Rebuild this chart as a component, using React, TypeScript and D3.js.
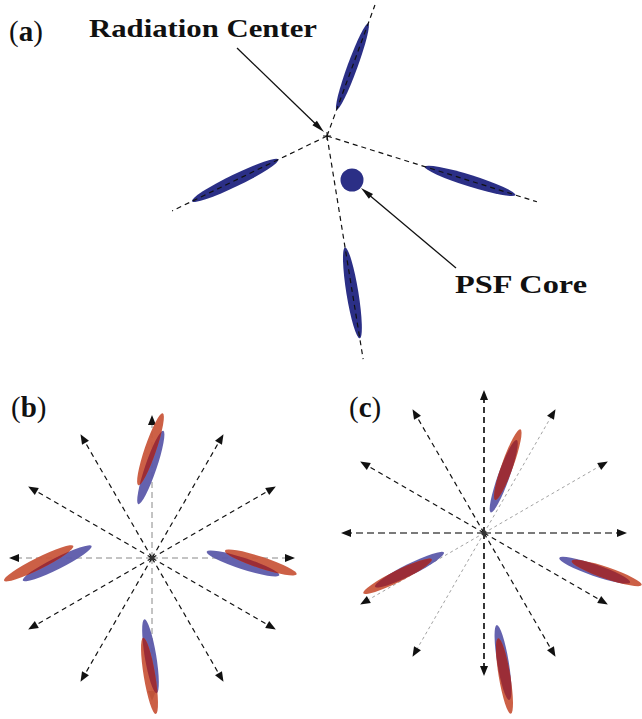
import React from 'react';
import * as d3 from 'd3';

// ---- panel (a): one streak per ray, all on the ray through the radiation center
const raysA = [
  { angle: -69.9, len: 139.5 },
  { angle: 154.2, len: 172 },
  { angle: 17.4, len: 220 },
  { angle: 80.8, len: 226 },
];
const streaksA = [
  { dist: 74, len: 92, wid: 10 },
  { dist: 102, len: 96, wid: 12 },
  { dist: 150, len: 95, wid: 11.5 },
  { dist: 159, len: 92, wid: 12 },
];
const coreA = { dx: 25, dy: 44, r: 11.5 };

// ---- panels (b) and (c): 12 radial arrows
const rayAngles = [0, 30, 60, 90, 120, 150, 180, 210, 240, 270, 300, 330];
const rayLen = 143;
// line style per arrow, same order as rayAngles
const rayStyleB = ['grid', 'black', 'black', 'grid', 'black', 'black', 'grid', 'black', 'black', 'grid', 'black', 'black'];
const rayStyleC = ['thickGray', 'black', 'black', 'thickBlack', 'thin', 'thin', 'thickGray', 'black', 'black', 'thickBlack', 'thin', 'thin'];

// streak pairs: offsets from panel center, major length, tilt (deg)
const streaksB = [
  { blue: { dx: -1.2, dy: -90.5, len: 77.5 }, red: { dx: -1.5, dy: -108.8, len: 76 }, angle: -71.2 },
  { blue: { dx: -94.8, dy: 5.3, len: 77 }, red: { dx: -113.3, dy: 5.3, len: 77.5 }, angle: -26.6 },
  { blue: { dx: 91, dy: 5.5, len: 76.4 }, red: { dx: 108.8, dy: 4.5, len: 75.5 }, angle: 18.1 },
  { blue: { dx: -1.5, dy: 98.3, len: 75 }, red: { dx: -2.5, dy: 117.8, len: 77.3 }, angle: 80.6 },
];
const streaksC = [
  { blue: { dx: 19.7, dy: -56.7, len: 77 }, red: { dx: 23.8, dy: -68.4, len: 75 }, angle: -70.3 },
  { blue: { dx: -74.5, dy: 36.7, len: 77 }, red: { dx: -86.5, dy: 43.3, len: 76.4 }, angle: -26.4 },
  { blue: { dx: 110.7, dy: 37.2, len: 75 }, red: { dx: 122.7, dy: 40, len: 74 }, angle: 19 },
  { blue: { dx: 19, dy: 129.5, len: 76 }, red: { dx: 20.5, dy: 143, len: 76.7 }, angle: 80.5 },
];
const streakWid = 11.5;

const NAVY = '#2b2f86';
const BLUE = '#5c5aaa';
const ORANGE = '#c9573c';
const OVERLAP = '#9b2d37';
const FONT = 'Liberation Serif, Times New Roman, DejaVu Serif, serif';

const styles: Record<string, { stroke: string; width: number; dash: string }> = {
  grid: { stroke: '#888', width: 1, dash: '6,4' },
  black: { stroke: '#111', width: 1.2, dash: '5,4' },
  thickGray: { stroke: '#7a7a7a', width: 2, dash: '7,4' },
  thickBlack: { stroke: '#222', width: 1.8, dash: '6,4' },
  thin: { stroke: '#8a8a8a', width: 0.8, dash: '3,3' },
};

const rad = (a: number) => (a * Math.PI) / 180;

function arrowHead(x: number, y: number, angle: number, L: number, hw: number) {
  const a = rad(angle);
  const ux = Math.cos(a), uy = Math.sin(a);
  const p = d3.path();
  p.moveTo(x, y);
  p.lineTo(x - ux * L - uy * hw, y - uy * L + ux * hw);
  p.lineTo(x - ux * L + uy * hw, y - uy * L - ux * hw);
  p.closePath();
  return p.toString();
}

const Label: React.FC<{ x: number; y: number; letter: string }> = ({ x, y, letter }) => (
  <text x={x} y={y} fontSize={29} fontFamily={FONT} fill="#111">
    (<tspan fontWeight="bold">{letter}</tspan>)
  </text>
);

const PanelA: React.FC<{ cx: number; cy: number }> = ({ cx, cy }) => {
  const x = d3.scaleLinear().domain([0, 1]).range([cx, cx + 1]);
  const y = d3.scaleLinear().domain([0, 1]).range([cy, cy + 1]);
  const line = d3.line<[number, number]>().x(d => x(d[0])).y(d => y(d[1]));
  return (
    <g>
      {streaksA.map((s, i) => {
        const a = rad(raysA[i].angle);
        return (
          <ellipse key={i}
            cx={0} cy={0} rx={s.len / 2} ry={s.wid / 2} fill={NAVY}
            transform={`translate(${x(s.dist * Math.cos(a))},${y(s.dist * Math.sin(a))}) rotate(${raysA[i].angle})`} />
        );
      })}
      {raysA.map((r, i) => {
        const a = rad(r.angle);
        return (
          <path key={i} d={line([[0, 0], [r.len * Math.cos(a), r.len * Math.sin(a)]]) || ''}
            stroke="#111" strokeWidth={1.2} strokeDasharray="5,4" fill="none" />
        );
      })}
      <circle cx={x(coreA.dx)} cy={y(coreA.dy)} r={coreA.r} fill={NAVY} />
      <path d={`M${x(-4)},${y(0)}H${x(4)}M${x(0)},${y(-4)}V${y(4)}`} stroke="#111" strokeWidth={1} />
    </g>
  );
};

const Annotation: React.FC<{ text: string; tx: number; ty: number; tw: number; x1: number; y1: number; x2: number; y2: number }> =
  ({ text, tx, ty, tw, x1, y1, x2, y2 }) => {
    const ang = (Math.atan2(y2 - y1, x2 - x1) * 180) / Math.PI;
    const a = rad(ang);
    return (
      <g>
        <text x={tx} y={ty} fontSize={26} fontWeight="bold" fontFamily={FONT} fill="#111"
          textLength={tw} lengthAdjust="spacingAndGlyphs">{text}</text>
        <line x1={x1} y1={y1} x2={x2 - Math.cos(a) * 8} y2={y2 - Math.sin(a) * 8} stroke="#111" strokeWidth={1.3} />
        <path d={arrowHead(x2, y2, ang, 13, 3.2)} fill="#111" />
      </g>
    );
  };

const Starburst: React.FC<{ id: string; cx: number; cy: number; styleKeys: string[]; streaks: typeof streaksB }> =
  ({ id, cx, cy, styleKeys, streaks }) => {
    const x = d3.scaleLinear().domain([0, 1]).range([cx, cx + 1]);
    const y = d3.scaleLinear().domain([0, 1]).range([cy, cy + 1]);
    const line = d3.line<[number, number]>().x(d => x(d[0])).y(d => y(d[1]));
    const ell = (e: { dx: number; dy: number; len: number }, angle: number) =>
      `translate(${x(e.dx)},${y(e.dy)}) rotate(${angle})`;
    return (
      <g>
        <defs>
          {streaks.map((s, i) => (
            <clipPath key={i} id={`${id}-clip-${i}`}>
              <ellipse cx={0} cy={0} rx={s.blue.len / 2} ry={streakWid / 2} transform={ell(s.blue, s.angle)} />
            </clipPath>
          ))}
        </defs>
        {rayAngles.map((ang, i) => {
          const st = styles[styleKeys[i]];
          const a = rad(ang);
          const tx = rayLen * Math.cos(a), ty = rayLen * Math.sin(a);
          const bx = (rayLen - 9) * Math.cos(a), by = (rayLen - 9) * Math.sin(a);
          return (
            <g key={i}>
              <path d={line([[0, 0], [bx, by]]) || ''} stroke={st.stroke} strokeWidth={st.width}
                strokeDasharray={st.dash} fill="none" />
              <path d={arrowHead(x(tx), y(ty), ang, 10, 4)} fill="#111" />
            </g>
          );
        })}
        <circle cx={x(0)} cy={y(0)} r={2.5} fill="#333" />
        {streaks.map((s, i) => (
          <g key={i}>
            <ellipse cx={0} cy={0} rx={s.blue.len / 2} ry={streakWid / 2} fill={BLUE} fillOpacity={0.95}
              transform={ell(s.blue, s.angle)} />
            <ellipse cx={0} cy={0} rx={s.red.len / 2} ry={streakWid / 2} fill={ORANGE} fillOpacity={0.95}
              transform={ell(s.red, s.angle)} />
            <g clipPath={`url(#${id}-clip-${i})`}>
              <ellipse cx={0} cy={0} rx={s.red.len / 2} ry={streakWid / 2} fill={OVERLAP}
                transform={ell(s.red, s.angle)} />
            </g>
          </g>
        ))}
      </g>
    );
  };

export default function App() {
  return (
    <svg width={642} height={719} style={{ display: 'block', position: 'absolute', left: 0, top: 0, background: '#fff' }}>
      <rect width={642} height={719} fill="#fff" />
      <Label x={9} y={41} letter="a" />
      <Label x={11} y={417} letter="b" />
      <Label x={349} y={417} letter="c" />
      <PanelA cx={327} cy={136} />
      <Annotation text="Radiation Center" tx={89} ty={37} tw={228} x1={237} y1={48} x2={324} y2={132} />
      <Annotation text="PSF Core" tx={455} ty={293} tw={132} x1={456} y1={268} x2={361} y2={188} />
      <Starburst id="b" cx={152} cy={558} styleKeys={rayStyleB} streaks={streaksB} />
      <Starburst id="c" cx={484} cy={533} styleKeys={rayStyleC} streaks={streaksC} />
    </svg>
  );
}
